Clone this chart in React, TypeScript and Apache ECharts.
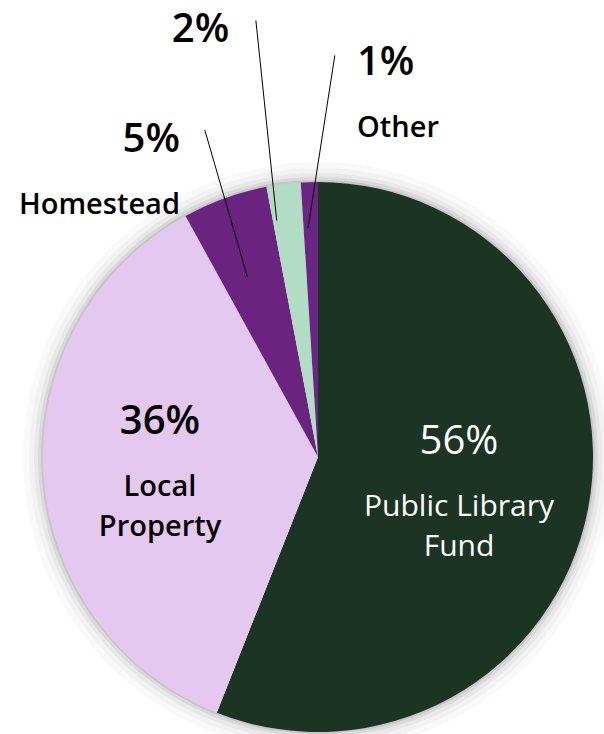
import React, { useEffect, useRef } from "react";
import * as echarts from "echarts";

// ---- data ----
const categories = ["Public Library Fund", "Local Property", "Homestead", "", "Other"];
const labelNames = ["Public Library\nFund", "Local\nProperty", "Homestead", "", "Other"];
const values = [56, 36, 5, 2, 1];
const colors = ["#1b3423", "#e5c8ef", "#6a2480", "#b1ddc5", "#6b2683"];

// ---- layout (pixels) ----
const CX = 318;
const CY = 457;
const R = 275;
const FONT = "'Open Sans', 'Noto Sans', sans-serif";

// soft halo around the pie: [extra radius, opacity]
const HALO_RINGS = [
  [2, 0.22],
  [5, 0.15],
  [9, 0.09],
  [14, 0.05],
  [20, 0.025],
];

// label anchor relative to pie centre; line: [startAngleOffset, startR, endAngleOffset, endR]
const LABEL_SPECS: { dx: number; dy: number; align: string; line?: number[]; inside: boolean; white?: boolean; single?: boolean }[] = [
  { dx: 141, dy: -65, align: "center", inside: true, white: true },
  { dx: -158, dy: -85, align: "center", inside: true },
  { dx: -138, dy: -367, align: "right", inside: false, line: [-1.6, 194, 0.7, 346] },
  { dx: -117.5, dy: -453, align: "center", inside: false, single: true, line: [-2.7, 240, -0.9, 441] },
  { dx: 39, dy: -444, align: "left", inside: false, line: [-0.7, 229, 4.2, 402] },
];

export default function App() {
  const ref = useRef<HTMLDivElement>(null);
  useEffect(() => {
    if (!ref.current) return;
    const chart = echarts.init(ref.current, null, { renderer: "svg" });
    const total = values.reduce((a, b) => a + b, 0);
    const midAngles: number[] = [];
    let acc = 0;
    values.forEach((v) => {
      midAngles.push(((acc + v / 2) / total) * 360);
      acc += v;
    });
    const polar = (deg: number, r: number) => [
      CX + r * Math.sin((deg * Math.PI) / 180),
      CY - r * Math.cos((deg * Math.PI) / 180),
    ];

    const sliceData = values.map((v, i) => ({
      name: categories[i],
      value: v,
      itemStyle: { color: colors[i] },
    }));

    const labelData = values.map((v, i) => {
      const spec = LABEL_SPECS[i];
      return {
        name: categories[i],
        value: v,
        itemStyle: { color: "rgba(0,0,0,0)" },
        label: {
          show: true,
          position: spec.inside ? "inside" : "outside",
          formatter: () => {
            const pk = spec.inside ? (spec.white ? "pw" : "pb") : spec.single ? "ps" : "po";
            const nk = spec.inside ? (spec.white ? "nw" : "nb") : "no";
            let s = `{${pk}|${v}%}`;
            if (labelNames[i]) {
              s += labelNames[i]
                .split("\n")
                .map((t) => `\n{${nk}|${t}}`)
                .join("");
            }
            return s;
          },
        },
        labelLine: {
          show: !spec.inside,
          lineStyle: { color: "#000000", width: 1 },
        },
      };
    });

    chart.setOption({
      animation: false,
      backgroundColor: "#ffffff",
      graphic: HALO_RINGS.map(([extra, op], k) => ({
        type: "ring",
        silent: true,
        z: 0,
        z2: k,
        shape: { cx: CX, cy: CY, r: R + extra, r0: R + (k === 0 ? -2 : HALO_RINGS[k - 1][0]) },
        style: { fill: "#000000", opacity: op },
      })),
      series: [
        {
          type: "pie",
          center: [CX, CY],
          radius: R,
          startAngle: 90,
          clockwise: true,
          z: 2,
          silent: true,
          emphasis: { disabled: true },
          itemStyle: { borderWidth: 0 },
          label: { show: false },
          labelLine: { show: false },
          data: sliceData,
        },
        {
          type: "pie",
          center: [CX, CY],
          radius: R,
          startAngle: 90,
          clockwise: true,
          z: 3,
          silent: true,
          avoidLabelOverlap: false,
          emphasis: { disabled: true },
          itemStyle: { borderWidth: 0 },
          label: {
            fontFamily: FONT,
            rich: {
              pw: { fontFamily: FONT, fontSize: 40, fontWeight: 400, color: "#ffffff", lineHeight: 92, align: "center" },
              nw: { fontFamily: FONT, fontSize: 30, fontWeight: 400, color: "#ffffff", lineHeight: 40, align: "center" },
              pb: { fontFamily: FONT, fontSize: 40, fontWeight: 600, color: "#000000", lineHeight: 92, align: "center" },
              nb: { fontFamily: FONT, fontSize: 29, fontWeight: 600, color: "#000000", lineHeight: 40, align: "center" },
              po: { fontFamily: FONT, fontSize: 40, fontWeight: 600, color: "#000000", lineHeight: 92 },
              ps: { fontFamily: FONT, fontSize: 40, fontWeight: 600, color: "#000000", lineHeight: 44 },
              no: { fontFamily: FONT, fontSize: 29, fontWeight: 600, color: "#000000", lineHeight: 40 },
            },
          },
          labelLayout: (params: any) => {
            const i = params.dataIndex;
            const spec = LABEL_SPECS[i];
            if (!spec) return {};
            const out: any = {
              x: CX + spec.dx,
              y: CY + spec.dy,
              align: spec.align,
              verticalAlign: "top",
            };
            if (spec.line) {
              const m = midAngles[i];
              out.labelLinePoints = [
                polar(m + spec.line[0], spec.line[1]),
                polar(m + spec.line[2], spec.line[3]),
              ];
            }
            return out;
          },
          data: labelData,
        },
      ],
    });
    return () => chart.dispose();
  }, []);

  return (
    <div
      ref={ref}
      style={{ position: "fixed", left: 0, top: 0, width: 604, height: 734, background: "#ffffff" }}
    />
  );
}
